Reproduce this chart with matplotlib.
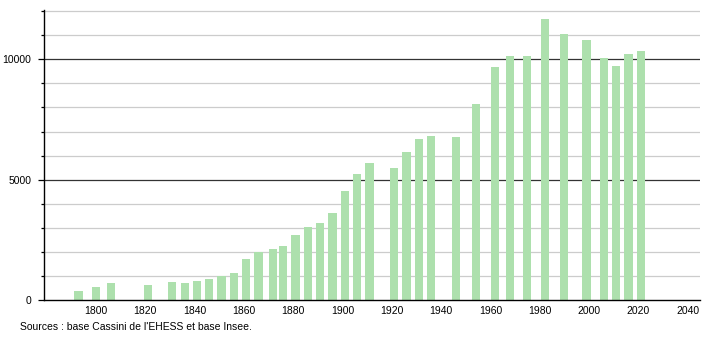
import numpy as np
import matplotlib
matplotlib.use('Agg')
import matplotlib.pyplot as plt

plt.rcParams['font.family'] = ['Liberation Sans', 'DejaVu Sans']

years = [1793, 1800, 1806, 1821, 1831, 1836, 1841, 1846, 1851, 1856,
         1861, 1866, 1872, 1876, 1881, 1886, 1891, 1896, 1901, 1906,
         1911, 1921, 1926, 1931, 1936, 1946, 1954, 1962, 1968, 1975,
         1982, 1990, 1999, 2006, 2011, 2016, 2021]
population = [373, 540, 690, 635, 750, 705, 800, 870, 1010, 1120,
              1700, 1990, 2120, 2250, 2700, 3040, 3190, 3610, 4520, 5230,
              5710, 5490, 6150, 6670, 6820, 6780, 8160, 9670, 10150, 10150,
              11660, 11040, 10790, 10070, 9710, 10210, 10330]
source = "Sources : base Cassini de l'EHESS et base Insee."

fig = plt.figure(figsize=(7.1, 3.4), dpi=100)
ax = fig.add_axes([44/710, 40/340, 656/710, 290/340])

# grid: light every 1000, dark at 5000 / 10000
for v in range(1000, 13000, 1000):
    if v % 5000 == 0:
        ax.axhline(v, color='#333333', lw=0.9, zorder=1)
    else:
        ax.axhline(v, color='#cccccc', lw=0.9, zorder=1)

ax.bar(years, population, width=3.3, color='#ade0ad', zorder=2)

ax.set_xlim(1779, 2045)
ax.set_ylim(0, 12050)
ax.set_xticks(range(1800, 2041, 20))
ax.set_yticks([0, 5000, 10000])
ax.set_yticks(range(0, 12001, 1000), minor=True)
ax.tick_params(axis='x', length=0, labelsize=7.5, pad=4)
ax.tick_params(axis='y', which='major', length=4, width=0.9, labelsize=7.5, pad=5)
ax.tick_params(axis='y', which='minor', length=2, width=0.9)
ax.spines['top'].set_visible(False)
ax.spines['right'].set_visible(False)
for s in ['left', 'bottom']:
    ax.spines[s].set_linewidth(1.0)
    ax.spines[s].set_color('black')

fig.text(20/710, 1 - 327/340, source, fontsize=7.5, va='center', ha='left')

fig.savefig('out.png', dpi=100)
